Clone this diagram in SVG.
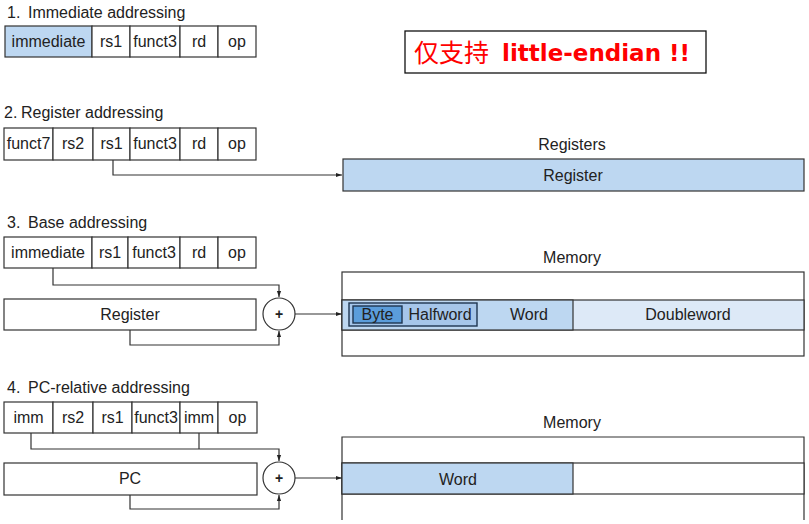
<svg xmlns="http://www.w3.org/2000/svg" width="809" height="524" viewBox="0 0 809 524">
<defs>
<marker id="ah" viewBox="0 0 10 10" refX="10" refY="5" markerWidth="6" markerHeight="6" orient="auto" markerUnits="userSpaceOnUse"><path d="M0,1.5 L10,5 L0,8.5 z" fill="#222"/></marker>
<style>
.t{font-family:"Liberation Sans",Arial,sans-serif;font-size:16px;fill:#222}
.c{text-anchor:middle}
.b{fill:#fff;stroke:#333;stroke-width:1.2}
.blue{fill:#bdd7f1;stroke:#333;stroke-width:1.2}
.ln{fill:none;stroke:#333;stroke-width:1.2}
</style>
</defs>
<rect width="809" height="524" fill="#fff"/>

<g id="title1"><text class="t" x="7" y="18">1.</text><text class="t" x="28" y="18">Immediate addressing</text></g>
<g id="instr1">
<rect class="blue" x="5" y="26" width="87" height="31"/>
<rect class="b" x="92" y="26" width="38" height="31"/>
<rect class="b" x="130" y="26" width="50" height="31"/>
<rect class="b" x="180" y="26" width="38" height="31"/>
<rect class="b" x="218" y="26" width="38" height="31"/>
<text class="t c" x="48.5" y="47">immediate</text>
<text class="t c" x="111" y="47">rs1</text>
<text class="t c" x="155" y="47">funct3</text>
<text class="t c" x="199" y="47">rd</text>
<text class="t c" x="237" y="47">op</text>
</g>

<g id="note">
<rect x="405" y="31" width="301" height="42" fill="#fff" stroke="#111" stroke-width="1.3"/>
<text x="414" y="62" style="font-family:'Noto Sans CJK SC',sans-serif;font-size:25px;fill:#f00">仅支持</text>
<text x="502" y="61" style="font-family:'DejaVu Sans',Verdana,sans-serif;font-weight:bold;font-size:23px;fill:#f00">little-endian !!</text>
</g>

<g id="title2"><text class="t" x="4" y="118">2.</text><text class="t" x="21" y="118">Register addressing</text></g>
<g id="instr2">
<rect class="b" x="4" y="128" width="49" height="32"/>
<rect class="b" x="53" y="128" width="40" height="32"/>
<rect class="b" x="93" y="128" width="37" height="32"/>
<rect class="b" x="130" y="128" width="50" height="32"/>
<rect class="b" x="180" y="128" width="38" height="32"/>
<rect class="b" x="218" y="128" width="38" height="32"/>
<text class="t c" x="28.5" y="149">funct7</text>
<text class="t c" x="73" y="149">rs2</text>
<text class="t c" x="111.5" y="149">rs1</text>
<text class="t c" x="155" y="149">funct3</text>
<text class="t c" x="199" y="149">rd</text>
<text class="t c" x="237" y="149">op</text>
</g>
<g id="registers">
<text class="t c" x="572" y="150">Registers</text>
<rect class="blue" x="343" y="159" width="461" height="32"/>
<text class="t c" x="573" y="181">Register</text>
</g>

<g id="title3"><text class="t" x="7" y="228">3.</text><text class="t" x="28" y="228">Base addressing</text></g>
<g id="instr3">
<rect class="b" x="4" y="237" width="88" height="31"/>
<rect class="b" x="92" y="237" width="36" height="31"/>
<rect class="b" x="128" y="237" width="52" height="31"/>
<rect class="b" x="180" y="237" width="38" height="31"/>
<rect class="b" x="218" y="237" width="38" height="31"/>
<text class="t c" x="48" y="258">immediate</text>
<text class="t c" x="110" y="258">rs1</text>
<text class="t c" x="154" y="258">funct3</text>
<text class="t c" x="199" y="258">rd</text>
<text class="t c" x="237" y="258">op</text>
</g>
<g id="reg3">
<rect class="b" x="4" y="299" width="252" height="31"/>
<text class="t c" x="130" y="320">Register</text>
</g>
<g id="add3">
<circle class="b" cx="279" cy="314" r="16"/>
<text class="t c" x="279" y="319" style="font-size:14px;font-weight:bold">+</text>
</g>
<g id="memory3">
<text class="t c" x="572" y="263">Memory</text>
<rect class="b" x="342" y="272" width="462" height="84"/>
<rect fill="#dde9f7" stroke="#333" stroke-width="1.2" x="342" y="300" width="462" height="30"/>
<rect class="blue" x="342" y="300" width="231" height="30"/>
<rect fill="#a6c6ea" stroke="#1e3550" stroke-width="1.4" x="349" y="303" width="128" height="23"/>
<rect fill="#5b9ddb" stroke="#1e3550" stroke-width="1.4" x="353" y="306" width="49" height="17"/>
<text class="t c" x="377.5" y="320">Byte</text>
<text class="t c" x="440" y="320">Halfword</text>
<text class="t c" x="529" y="320">Word</text>
<text class="t c" x="688" y="320">Doubleword</text>
</g>

<g id="title4"><text class="t" x="7" y="393">4.</text><text class="t" x="28" y="393">PC-relative addressing</text></g>
<g id="instr4">
<rect class="b" x="4" y="402" width="49" height="31"/>
<rect class="b" x="53" y="402" width="40" height="31"/>
<rect class="b" x="93" y="402" width="39" height="31"/>
<rect class="b" x="132" y="402" width="48" height="31"/>
<rect class="b" x="180" y="402" width="38" height="31"/>
<rect class="b" x="218" y="402" width="39" height="31"/>
<text class="t c" x="28.5" y="423">imm</text>
<text class="t c" x="73" y="423">rs2</text>
<text class="t c" x="112.5" y="423">rs1</text>
<text class="t c" x="156" y="423">funct3</text>
<text class="t c" x="199" y="423">imm</text>
<text class="t c" x="237.5" y="423">op</text>
</g>
<g id="pc">
<rect class="b" x="4" y="463" width="253" height="32"/>
<text class="t c" x="130" y="484">PC</text>
</g>
<g id="add4">
<circle class="b" cx="279" cy="478" r="16"/>
<text class="t c" x="279" y="483" style="font-size:14px;font-weight:bold">+</text>
</g>
<g id="memory4">
<text class="t c" x="572" y="428">Memory</text>
<path class="ln" d="M342,520 V437 H804 V520"/>
<rect class="b" x="342" y="463" width="462" height="31"/>
<rect class="blue" x="342" y="463" width="231" height="31"/>
<text class="t c" x="458" y="485">Word</text>
</g>

<g id="connectors">
<path class="ln" d="M113,160 V175 H342" marker-end="url(#ah)"/>
<path class="ln" d="M53,268 V285 H279 V297" marker-end="url(#ah)"/>
<path class="ln" d="M130,330 V345 H279 V331" marker-end="url(#ah)"/>
<path class="ln" d="M295,314 H342" marker-end="url(#ah)"/>
<path class="ln" d="M31,433 V449 H279 V461" marker-end="url(#ah)"/>
<path class="ln" d="M199,433 V449"/>
<path class="ln" d="M130,495 V509 H279 V495" marker-end="url(#ah)"/>
<path class="ln" d="M295,478 H342" marker-end="url(#ah)"/>
</g>
</svg>
